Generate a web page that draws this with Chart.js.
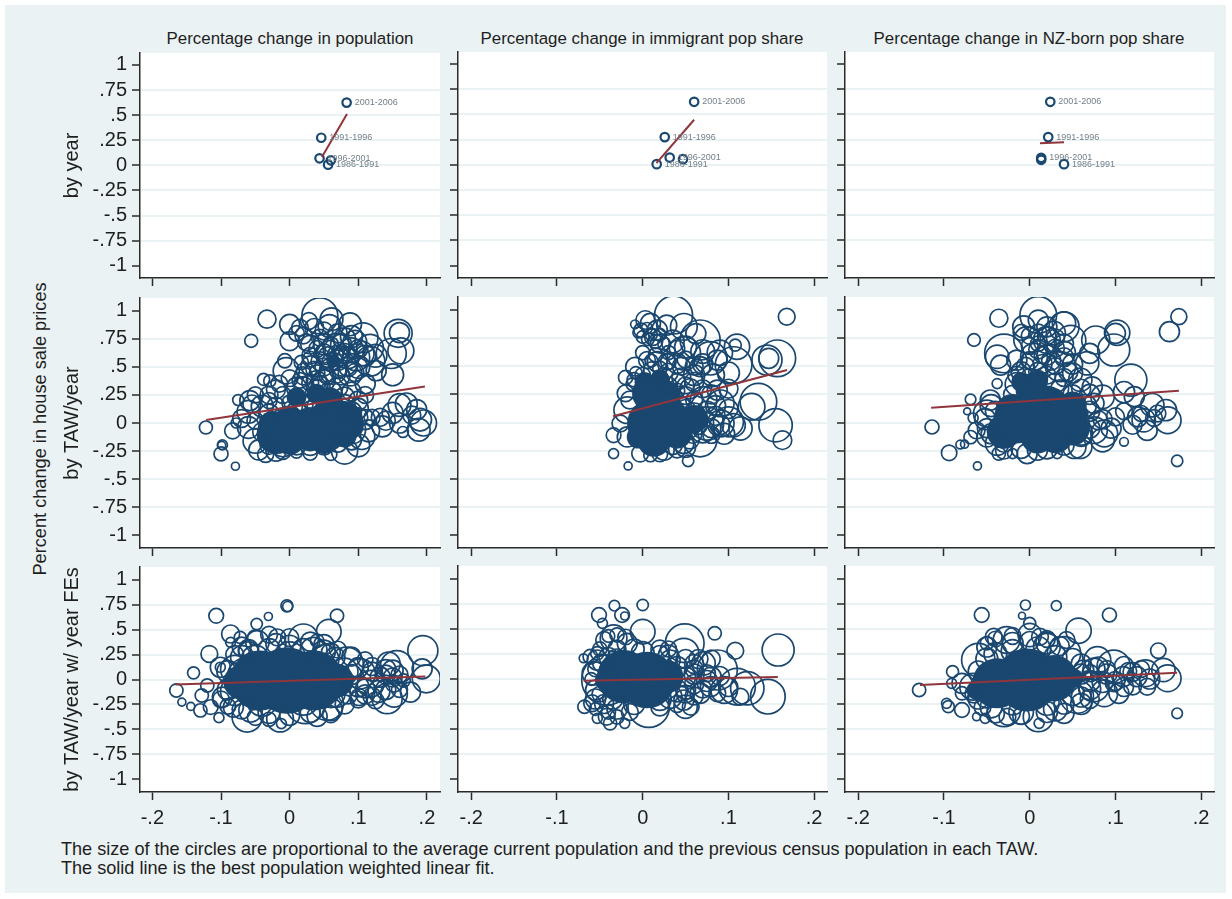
<!DOCTYPE html>
<html>
<head>
<meta charset="utf-8">
<script src="https://cdn.jsdelivr.net/npm/chart.js@4/dist/chart.umd.min.js"></script>
<style>
  html, body { margin: 0; padding: 0; background: #fff; }
  #page { position: absolute; left: 0; top: 0; width: 1232px; height: 899px; filter: blur(0.35px); }
  #sheet { position: absolute; left: 5px; top: 5px; width: 1221px; height: 888px; background: #eaf2f3; }
  canvas { position: absolute; }
  .txt { position: absolute; font-family: "Liberation Sans", Arial, sans-serif; color: #1e1e1e; white-space: nowrap; }
  .coltitle { font-size: 16.9px; transform: translateX(-50%); top: 29px; }
  #ytitle { font-size: 18.2px; left: 40px; top: 429px; transform: translate(-50%, -50%) rotate(-90deg); }
  #note { left: 61px; top: 840px; font-size: 18.1px; line-height: 18.5px; }
</style>
</head>
<body>
<div id="page">
<div id="sheet"></div>
<div class="txt coltitle" style="left:290px">Percentage change in population</div>
<div class="txt coltitle" style="left:642px">Percentage change in immigrant pop share</div>
<div class="txt coltitle" style="left:1029px">Percentage change in NZ-born pop share</div>
<div class="txt" id="ytitle">Percent change in house sale prices</div>
<div class="txt" id="note">The size of the circles are proportional to the average current population and the previous census population in each TAW.<br>The solid line is the best population weighted linear fit.</div>
</div>
<script>
// axis ticks
const xTicks = [-0.2, -0.1, 0, 0.1, 0.2];
const xTickLabels = ['-.2', '-.1', '0', '.1', '.2'];
const yTicks = [1, 0.75, 0.5, 0.25, 0, -0.25, -0.5, -0.75, -1];
const yTickLabels = ['1', '.75', '.5', '.25', '0', '-.25', '-.5', '-.75', '-1'];
const rowTitles = ['by year', 'by TAW/year', 'by TAW/year w/ year FEs'];

// by year panels, [x, y, weight]
const periodLabels = ['2001-2006', '1991-1996', '1996-2001', '1986-1991', ''];
const yearPop = [[.083,.625,18],[.046,.275,18],[.0435,.07,18],[.056,.007,18],[.06,.05,18]];
const yearImm = [[.06,.625,18],[.0257,.275,18],[.0315,.072,18],[.0163,.007,18],[.047,.056,18]];
const yearNz = [[.024,.625,18],[.0216,.275,18],[.0134,.07,18],[.04,.007,18],[.0134,.05,18]];

// best fit lines
const fitYearPop = [[.047,.082],[.0835,.512]];
const fitYearImm = [[.016,.017],[.06,.447]];
const fitYearNz = [[.012,.215],[.04,.225]];
const fitTawPop = [[-.1217,.027],[.197,.326]];
const fitTawImm = [[-.0346,.056],[.1685,.466]];
const fitTawNz = [[-.115,.13],[.174,.282]];
const fitFePop = [[-.1665,-.05],[.1976,.03]];
const fitFeImm = [[-.069,-.017],[.1576,.02]];
const fitFeNz = [[-.128,-.06],[.172,.063]];

// TAW/year circles, [x, y, weight]; weight is population, circle area follows it
const tawPop = [[.044,.955,324],[-.033,.926,81],[-.056,.733,42],[-.122,-.04,42],[-.098,-.196,25],[-.099,-.2,16],[-.1,-.276,49],[-.079,-.386,16],[-.075,.205,30],[-.083,-.07,64],[-.078,0,25],
[.16,.807,100],[.158,.8,196],[.162,.644,169],[.148,.62,225],[.15,.43,120],[0,.88,100],[.015,.85,70],[.028,.91,70],[.061,.926,130],[.036,.85,85],[.058,.865,130],[.088,.88,130],[0,.73,90],[.024,.72,70],[.044,.76,70],[.068,.68,180],[.107,.76,220],[.117,.67,180],[-.007,.555,50],[-.005,.466,170],[.017,.54,50],[.031,.51,100],[.058,.614,180],[.078,.55,220],[.097,.585,180],[.117,.55,220],[.126,.466,100],[.063,.466,180],[.088,.436,140],[.039,.377,100],[.01,.317,100],[-.038,.39,36],[-.029,.375,36],[-.015,.35,70],[-.058,.2,100],[-.05,.25,64],
[.195,0,169],[.19,.03,130],[.178,.07,80],[.185,.12,100],[.188,-.06,130],[.17,.17,120],[.16,0,100],[.15,.09,110],[.14,.02,90],[.135,-.03,110],[.132,.05,80],[.16,.16,130],[.165,-.08,30],[.12,.05,64],[.115,-.07,120],[.105,-.12,170],[.09,-.06,200],[.11,.03,100],[.09,-.15,100],[.1,.13,100],
[-.06,-.04,120],[-.05,-.16,150],[-.045,-.24,100],[-.035,-.28,64],[-.02,-.25,100],[-.01,-.2,130],[.01,-.26,36],[.03,-.27,49],[.06,-.28,36],[.08,-.25,170],[.1,-.2,130],[-.06,.1,130],[-.055,.17,80],[-.04,.15,120],[-.07,.04,80],
[-.02,.3,90],[0,.4,70],[.02,.42,80],[.05,.38,120],[.07,.32,100],[.09,.28,90],[.04,.45,60],[.075,.42,80],[-.03,.25,80],[.11,.25,70],[.03,.7,90],[.05,.7,110],[.08,.75,120],[.09,.65,150],[.03,.6,70],[.045,.55,90],[.1,.5,130],[.11,.35,100],
[-.05,.02,70],[-.04,-.08,90],[-.03,.08,100],[-.02,.15,80],[-.01,.05,90],[.01,.1,100],[.02,.16,90],[.03,.12,70],[.04,.15,100],[.05,.11,80],[.06,.17,100],[.07,.12,90],[.08,.16,110],[.09,.1,100],[.1,.05,90],[.08,-.1,110],[.07,-.17,100],[.05,-.2,90],[.03,-.2,100],[.01,-.2,90],[-.01,-.25,70],[-.03,-.2,80],[.06,-.14,120],[.04,.3,90],[.02,.33,90],[-.01,.25,70],[.06,.28,110],[.08,.23,100],[.1,.2,90],[.03,.2,60],[0,.18,60],[-.03,.2,64],
[.01,.8,60],[.02,.78,70],[.05,.82,80],[.07,.8,90],[.09,.77,120],[.04,.66,70],[.055,.6,80],[.07,.56,100],[.085,.5,90],[.095,.45,80],[.03,.57,60],[.02,.47,50],[.07,.47,70],[.05,.5,80],[.06,.7,60],[.08,.62,100],[.1,.66,90],[.11,.6,110],
[.03,.36,70],[.045,.33,90],[.015,.38,60],[.055,.42,70],[.035,.48,60],[.06,.54,80],[.07,.6,110],[.085,.58,120],[.05,.62,90],[.075,.7,110],[.095,.72,140],[.105,.62,150],[.125,.6,130]];
const tawImm = [[.036,.955,361],[.168,.94,70],[-.009,.872,19],[.003,.91,87],[.009,.88,100],[.017,.82,100],[.028,.865,100],[.048,.85,178],[.062,.79,100],[.067,.733,400],[.11,.673,160],[.108,.688,36],[.157,.57,336],[.147,.57,100],[.145,.555,225],[.106,.51,336],[.079,.57,278],[.087,.555,100],[.067,.496,100],[.048,.614,278],[-.009,.496,87],[.005,.555,70],[.017,.54,100],[.028,.54,70],[.04,.525,100],[.135,.184,336],[.127,.14,178],[.155,-.024,278],[.163,-.157,87],[.114,-.053,136],[.106,-.024,136],[.1,.006,225],[.053,-.341,32],[-.034,-.276,25],[-.017,-.386,16],[-.034,-.113,54],[-.018,.11,178],[-.026,-.009,70],[-.018,-.128,100],[-.003,-.276,70],[.009,-.29,44],[.025,-.246,100],[.048,-.187,100],[.067,-.157,278],[.075,-.009,278],[.091,-.009,178],[.091,.17,178],[.087,.288,100],[.071,.2,178],
[.02,.7,90],[.035,.72,130],[.05,.67,120],[.012,.76,70],[-.002,.82,50],[.006,.74,40],[.07,.63,140],[.09,.62,160],[.1,.44,120],[.082,.42,130],[.06,.42,110],[.045,.5,80],[.03,.44,90],[.01,.47,60],[.06,.08,110],[.075,.1,100],[.05,.12,90],[.085,.06,90],[.07,-.08,130],[.058,-.1,90],[.05,-.22,100],[.035,-.2,90],[.04,-.08,80],[.095,-.1,110],[.08,-.11,70],[-.02,.26,70],[-.015,.2,80],[.055,.3,100],[.045,.4,90],[.1,.3,90],
[-.005,.8,30],[0,.76,40],[.005,.84,30],[.01,.78,36],[.015,.72,50],[.02,.78,40],[.025,.7,40],[.015,.6,50],[0,.62,50],[.01,.55,40],[.03,.62,50],[.04,.66,60],[.03,.54,60],[.05,.56,70],[.06,.5,80],[.07,.52,100],[.06,.36,90],[.05,.33,70],[.04,.28,60],[.07,.3,80],[.08,.25,90],[.085,.15,100],[.1,.12,90],[.09,-.02,100],[.08,-.05,90],[.065,-.03,70],[.06,.02,60],[-.02,.4,50],[-.01,.38,50],[0,.42,60],[.02,.4,60],
[.03,.33,70],[.01,.34,60],[.04,.36,70],[-.008,.44,40],[.02,.48,50],[.05,.24,80],[-.012,.34,40],[.045,.16,70],[.06,.2,70],[.055,-.05,90],[.055,-.15,90],[.04,-.24,70],[.02,-.28,60]];
const tawNz = [[.01,.955,336],[-.036,.926,81],[-.065,.733,40],[.174,.94,64],[.163,.807,100],[-.114,-.04,49],[-.094,-.27,59],[-.081,-.196,19],[-.076,-.193,16],[-.061,-.386,16],[.172,-.341,32],[-.069,.205,28],[-.073,.1,12],[-.066,.04,25],[-.069,-.13,44],[-.062,-.07,70],[.098,.644,256],[.102,.798,160],[.1,.792,100],[.077,.733,196],[.118,.377,256],[.11,.27,113],[.122,.23,100],[.143,.154,136],[.161,.02,178],[.159,.11,113],[.133,.02,136],[.137,-.07,100],[.11,-.172,19],[.087,-.098,178],[.085,-.157,136],[.085,.228,136],[.073,.317,100],[.126,.05,100],[.149,.08,70],
[-.03,.614,374],[-.038,.584,136],[-.034,.51,100],[-.007,.85,121],[.04,.85,225],[.04,.88,136],[.01,.91,100],[.02,.85,100],[.028,.794,136],[-.003,.733,178],[.02,.733,178],[.048,.73,225],[.067,.526,136],[.07,.614,100],[-.015,.555,100],[.005,.585,178],[.036,.496,225],[-.015,.34,136],[.059,.38,136],[-.038,.346,25],[-.046,.2,100],[-.05,.08,178],[.075,-.068,178],[.059,-.216,136],[-.036,-.276,44],[-.02,-.276,25],[-.003,-.276,100],[.009,-.246,100],[.032,-.276,25],[.052,-.216,136],[-.05,-.128,100],[-.038,-.187,136],
[.02,.6,100],[.04,.62,130],[-.01,.45,100],[.01,.45,90],[.05,.44,100],[.03,.35,100],[.07,.1,100],[.065,.15,120],[.08,.02,90],[.06,-.1,130],[-.045,.15,120],[-.052,.03,110],
[-.01,.8,64],[0,.77,70],[.01,.8,70],[.02,.77,80],[.03,.75,80],[0,.68,70],[.01,.65,90],[.03,.66,80],[.04,.58,90],[.05,.52,100],[.03,.5,70],[.015,.52,90],[-.005,.5,80],[-.015,.42,80],[0,.4,80],[.02,.42,80],[.04,.4,80],[.06,.3,90],[.07,.25,100],[.075,.17,100],[-.04,.1,100],[-.05,-.05,90],[-.045,-.1,100],[-.03,-.18,90],[-.03,-.25,70],[-.01,-.23,100],[.02,-.23,110],[.04,-.2,100],[.06,-.12,110],[.07,-.05,100],[.085,.03,90],[.1,.05,80],[.095,-.05,100],[.11,.1,70],[.12,-.02,90],[.145,.04,70],[.13,.08,64],
[.0,.55,80],[.015,.6,70],[.025,.55,90],[.01,.7,60],[.04,.7,90],[.045,.45,90],[.01,.36,70],[.035,.3,80],[.05,.25,90],[-.02,.25,80],[.03,.22,70]];
const fePop = [[-.107,.64,54],[-.004,.74,36],[-.003,.733,25],[-.031,.633,16],[.069,.64,44],[.057,.48,152],[-.048,.557,32],[.194,.29,225],[.199,.007,196],[.193,.107,100],[-.165,-.11,44],[-.157,-.227,16],[-.144,-.27,16],[-.14,.067,36],[-.117,.257,70],[-.128,-.16,44],[-.13,-.31,44],[-.12,-.06,44],[-.103,-.383,25],[-.115,-.277,54],[-.086,.457,81],[-.086,.373,25],[-.072,.423,36],[-.101,.123,25],[-.062,.02,400],[.023,-.243,400],[-.014,-.393,178],[-.012,-.443,25],[-.062,-.377,225],[-.057,-.31,136],[-.082,-.277,100],[.054,-.243,278],[.069,-.143,178],[.083,.157,278],[.103,.057,225],[.118,-.043,178],[.142,-.193,225],[.152,-.143,178],[.156,.123,278],[.144,.157,136],[.176,-.127,100],[.125,-.21,70],[.101,-.177,70],[.132,.023,100],[.152,-.043,70],[.166,-.01,44],[.02,.407,225],[.035,.29,178],[-.018,.423,70],[-.047,.373,136],[-.069,.223,136],[-.101,.123,100],[-.098,-.177,100],[.066,.223,100],[.04,.39,44],
[-.02,.36,100],[0,.33,130],[.05,.28,130],[-.06,.3,100],[-.09,.08,120],[-.09,-.1,110],[.09,.05,100],[.1,-.07,110],[.085,-.15,90],[.06,-.3,130],[.03,-.33,100],[-.03,-.33,120],[.12,.08,90],[.14,.05,90],[.15,.09,110],[.13,-.12,120],[.11,-.09,90],[.16,.05,70],
[-.08,.25,80],[-.07,.33,90],[-.05,.42,60],[-.03,.45,70],[0,.42,80],[.03,.38,90],[.05,.35,100],[.07,.3,70],[.09,.23,90],[.11,.2,60],[-.1,-.2,70],[-.09,-.27,60],[-.07,-.3,90],[-.05,-.38,64],[-.03,-.4,50],[0,-.36,100],[.04,-.37,100],[.06,-.35,70],[.08,-.25,90],[.1,-.2,70],[.1,.12,100],[.12,.13,80],[.11,-.15,90],[.12,-.17,80],[.14,-.1,100],[.15,.02,90],[.16,-.1,64],[.14,.1,100],
[-.08,.1,200],[-.05,.2,200],[0,.22,250],[.05,.2,220],[.08,.08,180],[-.08,-.12,200],[-.04,-.22,220],[.02,-.2,250],[.06,-.14,200],[-.06,.28,100],[-.03,.3,120],[.02,.3,120],[.06,.27,90]];
const feImm = [[0,.74,32],[-.033,.733,28],[-.051,.64,54],[-.024,.64,54],[-.021,.63,16],[-.047,.557,25],[.084,.457,44],[.108,.283,70],[.158,.29,256],[.146,-.177,300],[.049,.357,374],[0,.473,152],[.048,.257,225],[.032,.19,100],[.071,.157,136],[.087,.09,400],[.11,-.077,336],[.122,-.093,278],[.114,-.177,70],[.095,-.11,178],[.079,-.077,100],[.007,-.277,430],[.05,-.277,136],[.048,-.21,100],[.056,-.277,70],[.032,-.177,136],[-.069,.207,19],[-.053,.19,100],[-.045,.39,70],[-.034,.407,178],[-.018,.357,100],[-.042,-.01,625],[-.068,-.277,44],[-.059,-.243,70],[-.053,-.393,25],[-.038,-.443,44],[-.021,-.443,25],[-.042,-.377,70],[-.053,.257,44],[-.061,.223,54],[-.057,.057,136],[-.055,-.11,100],[.067,-.143,100],[.075,.057,70],[.087,-.143,70],
[-.03,.3,80],[-.01,.3,100],[.02,.24,90],[-.04,.22,90],[-.055,-.2,100],[-.045,-.25,90],[-.03,-.3,100],[-.015,-.33,70],[.02,-.28,80],[.06,.15,90],[.06,.05,100],[.05,-.1,100],[.06,-.17,80],[.075,-.02,110],[.09,.03,90],
[-.05,.3,50],[-.04,.43,40],[-.03,.44,50],[-.02,.42,60],[-.055,.1,60],[-.06,0,40],[-.05,-.15,60],[-.04,-.33,50],[-.03,-.38,50],[-.055,-.3,40],[.02,.3,80],[.03,.3,64],[.05,.2,90],[.06,.1,80],[.06,-.05,90],[.05,-.15,80],[.065,.2,90],[.08,.2,80],[.08,.02,100],[.07,-.1,80],[.04,-.25,70],[.1,-.08,90],
[-.048,.16,80],[-.03,.2,100],[0,.26,130],[.03,.24,100],[.04,.12,110],[.05,.02,100],[.04,-.12,120],[.02,-.2,130],[-.01,-.25,110],[-.035,-.2,100]];
const feNz = [[-.005,.74,25],[.031,.733,25],[-.056,.64,54],[.093,.64,49],[-.009,.633,12],[.057,.483,160],[0,.557,36],[.15,.283,59],[.172,-.343,28],[-.129,-.11,44],[-.097,-.243,25],[-.095,-.277,36],[-.09,.073,36],[-.091,-.043,25],[-.079,-.31,54],[-.079,-.143,44],[-.062,-.377,16],[-.052,-.393,25],[-.06,.19,278],[-.066,-.077,178],[-.042,.423,70],[-.027,.39,178],[0,.44,136],[.012,.423,70],[.02,.323,178],[.04,.257,278],[-.03,-.31,278],[-.026,-.377,70],[.01,-.377,225],[.011,-.443,25],[.04,-.343,100],[.055,-.177,278],[.079,.19,178],[.075,-.077,225],[.098,.123,278],[.087,-.143,178],[.109,.023,100],[.104,-.143,100],[.125,.023,100],[.135,.057,178],[.137,-.077,70],[.156,.09,136],[.161,.007,178],[.071,.057,70],[.098,-.043,70],[.063,.09,100],[-.05,.357,44],[-.079,-.043,100],[.043,.39,70],
[-.02,.36,110],[.02,.36,120],[-.05,.2,120],[.05,.2,110],[-.06,-.2,100],[-.045,-.28,120],[-.01,-.33,150],[.03,-.3,140],[.06,-.25,110],[.075,.1,120],[.09,.05,100],[.11,-.08,90],[.12,.07,90],[.14,0,100],[.07,-.2,90],[.085,-.03,110],
[-.05,.32,100],[-.06,.08,100],[-.065,-.15,80],[-.04,.4,60],[-.02,.43,70],[0,.38,90],[.02,.4,70],[.035,.33,90],[.06,.15,100],[.08,.12,100],[.09,.1,70],[.07,-.1,120],[.06,-.18,100],[.04,-.25,100],[.02,-.33,110],[-.01,-.37,70],[-.04,-.35,80],[-.055,-.28,70],[.1,-.02,90],[.115,.08,70],[.12,-.07,80],[.13,.1,70],[.11,.13,90],
[-.04,.25,130],[-.02,.28,130],[.01,.3,150],[.03,.22,130],[-.05,-.18,120],[-.02,-.24,140],[.02,-.24,150],[.05,-.15,130],[.07,-.02,110],[.06,.05,100]];

// overplotted cores where the rings run together into solid colour
const corePop = [[-.019,-.098,400],[.005,-.068,400],[.029,-.039,400],[.054,-.009,400],[.078,.02,400],[-.029,-.128,136],[.01,.23,100],[.039,.26,100],[.058,.2,180],[.063,.555,44],[.03,-.12,225],[0,-.15,225],[.06,-.09,225],[.09,-.03,150],[.07,.1,100],[0,.03,200],[-.025,-.02,200],[.05,-.15,200],[.08,-.11,150]];
const coreImm = [[.009,.258,336],[.009,-.009,544],[.032,.02,400],[.013,-.157,278],[.048,-.009,136],[-.005,-.128,136],[.025,.228,278],[.002,.36,100],[.02,.38,100],[.04,-.1,225],[.06,.03,200]];
const coreNz = [[-.015,.02,544],[.016,.02,544],[.04,.05,400],[.001,.288,225],[-.027,-.04,178],[.009,-.128,278],[.059,.08,70],[.035,-.05,400],[-.02,.1,300],[.02,.15,400],[.05,.15,200],[-.01,.36,100],[.01,.38,100],[-.03,-.08,300],[.03,-.12,300],[.05,-.05,300]];
const coreFePop = [[-.043,-.01,900],[-.004,-.01,1100],[.035,-.01,900],[.069,-.01,280],[-.072,-.027,280]];
const coreFeImm = [[-.022,.023,711],[.005,-.01,803],[.028,.023,278],[-.042,-.01,136]];
const coreFeNz = [[-.038,-.043,625],[-.003,-.01,1000],[.028,.007,544],[.051,.007,100],[-.062,-.11,100]];

const NAVY = '#1a476f', MAROON = '#90353b', GRID = '#eaf2f3', AXIS = '#2a2a2a';
const FONT = 'Liberation Sans';
const PAD = 16;

const colBox = [[140, 440, -0.218, 0.219], [458, 827, -0.2155, 0.215], [845, 1214, -0.2155, 0.215]];
const rowBox = [[52, 278, -1.122, 1.119], [297, 548, -1.115, 1.115], [566, 792, -1.13, 1.13]];

const panels = [
  [yearPop, null, fitYearPop], [yearImm, null, fitYearImm], [yearNz, null, fitYearNz],
  [tawPop, corePop, fitTawPop], [tawImm, coreImm, fitTawImm], [tawNz, coreNz, fitTawNz],
  [fePop, coreFePop, fitFePop], [feImm, coreFeImm, fitFeImm], [feNz, coreFeNz, fitFeNz]
];

const bubbles = rows => rows.map(([x, y, w]) => ({ x, y, r: Math.sqrt(w) }));
const linePts = rows => rows.map(([x, y]) => ({ x, y }));

const plotBg = {
  id: 'plotBg',
  beforeDraw(chart) {
    const a = chart.chartArea;
    chart.ctx.fillStyle = '#fff';
    chart.ctx.fillRect(a.left, a.top, a.right - a.left, a.bottom - a.top);
  }
};

const periodText = {
  id: 'periodText',
  afterDatasetsDraw(chart) {
    if (!chart.options.plugins.periodText.show) return;
    const ctx = chart.ctx;
    ctx.save();
    ctx.font = '9px "' + FONT + '"';
    ctx.fillStyle = '#74808a';
    ctx.textBaseline = 'middle';
    chart.getDatasetMeta(1).data.forEach((pt, i) => {
      ctx.fillText(periodLabels[i], pt.x + 8, pt.y);
    });
    ctx.restore();
  }
};

function drawPanel(row, col) {
  const [points, core, fit] = panels[row * 3 + col];
  const [left, right, xMin, xMax] = colBox[col];
  const [top, bottom, yMin, yMax] = rowBox[row];
  const leftGutter = col === 0 ? 80 : 10;
  const bottomGutter = row === 2 ? 44 : 10;

  const canvas = document.createElement('canvas');
  const w = right - left + leftGutter + 2 * PAD;
  const h = bottom - top + bottomGutter + 2 * PAD;
  canvas.width = w;
  canvas.height = h;
  canvas.style.left = (left - leftGutter - PAD) + 'px';
  canvas.style.top = (top - PAD) + 'px';
  document.getElementById('page').appendChild(canvas);

  const datasets = [
    { type: 'line', data: linePts(fit), borderColor: MAROON, borderWidth: 2, pointRadius: 0, fill: false, tension: 0 },
    { data: bubbles(points), borderColor: NAVY, borderWidth: row === 0 ? 2.2 : 1.7, backgroundColor: 'transparent' }
  ];
  if (core) datasets.push({ data: bubbles(core), borderColor: NAVY, borderWidth: 0, backgroundColor: NAVY });

  new Chart(canvas, {
    type: 'bubble',
    data: { datasets },
    plugins: [plotBg, periodText],
    options: {
      responsive: false,
      animation: false,
      layout: { padding: PAD, autoPadding: false },
      plugins: { legend: { display: false }, tooltip: { enabled: false }, periodText: { show: row === 0 } },
      scales: {
        x: {
          type: 'linear',
          min: xMin,
          max: xMax,
          afterBuildTicks(s) { s.ticks = xTicks.map(value => ({ value })); },
          afterFit(s) { s.height = bottomGutter; },
          border: { color: AXIS, width: 1.5 },
          grid: { drawOnChartArea: false, tickColor: AXIS, tickLength: 8, tickWidth: 1.5 },
          ticks: {
            display: row === 2,
            autoSkip: false,
            maxRotation: 0,
            padding: 6,
            color: '#1e1e1e',
            font: { family: FONT, size: 20 },
            callback: (v, i) => xTickLabels[i]
          }
        },
        y: {
          type: 'linear',
          min: yMin,
          max: yMax,
          afterBuildTicks(s) { s.ticks = yTicks.map(value => ({ value })); },
          afterFit(s) { s.width = leftGutter; },
          title: {
            display: col === 0,
            text: rowTitles[row],
            color: '#1e1e1e',
            font: { family: FONT, size: 20 },
            padding: 0
          },
          border: { color: AXIS, width: 1.5 },
          grid: {
            color: c => (Math.abs(c.tick.value) === 1 ? 'transparent' : GRID),
            lineWidth: 2,
            tickColor: AXIS,
            tickLength: 8,
            tickWidth: 1.5
          },
          ticks: {
            display: col === 0,
            autoSkip: false,
            padding: 5,
            color: '#1e1e1e',
            font: { family: FONT, size: 20 },
            callback: (v, i) => yTickLabels[i]
          }
        }
      }
    }
  });
}

for (let row = 0; row < 3; row++) {
  for (let col = 0; col < 3; col++) drawPanel(row, col);
}
</script>
</body>
</html>
